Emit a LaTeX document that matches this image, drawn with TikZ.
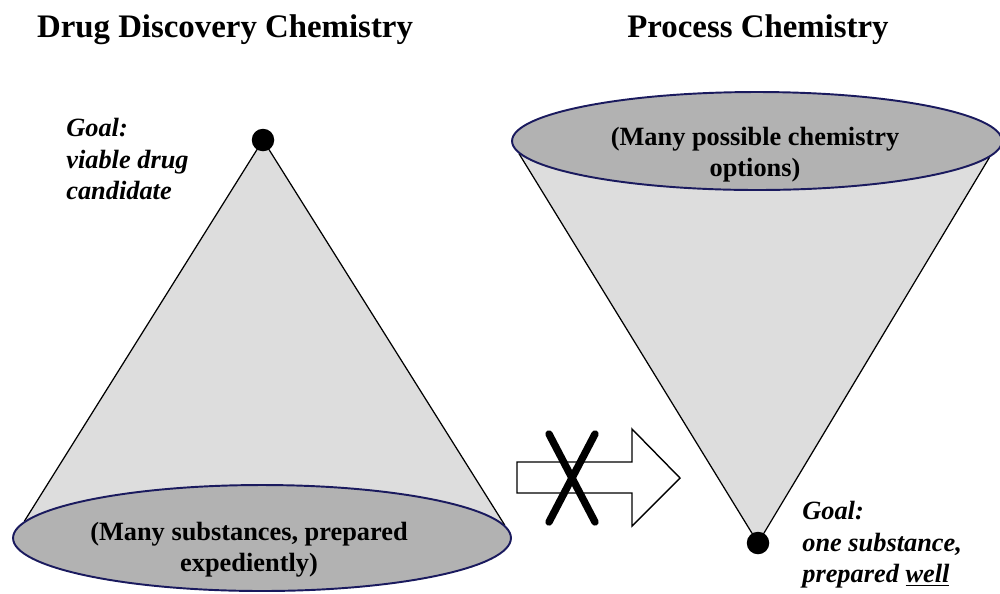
\documentclass[tikz,border=0pt]{standalone}
\usepackage{fontspec}
\setmainfont{Liberation Serif}
\usetikzlibrary{shapes.geometric,backgrounds}
\definecolor{conefill}{HTML}{DDDDDD}
\definecolor{capfill}{HTML}{B2B2B2}
\definecolor{capline}{HTML}{1A1A5E}
\tikzset{
  titletext/.style={font=\fontsize{18.7}{22}\selectfont\bfseries, inner sep=0pt},
  bodytext/.style={font=\fontsize{15}{17.8}\selectfont\bfseries, align=center, inner sep=0pt},
  goaltext/.style={font=\fontsize{15}{18}\selectfont\bfseries\itshape, align=left, inner sep=0pt, anchor=west},
  capell/.style={ellipse, fill=capfill, draw=capline, line width=1.1pt, inner sep=0pt},
  apexdot/.style={circle, fill=black, inner sep=0pt, minimum size=0.45cm},
  coneedge/.style={draw=black, line width=0.7pt},
  crossline/.style={line width=4.2pt, line cap=round, black},
}
\begin{document}
\begin{tikzpicture}[x=0.02cm, y=-0.02cm]
\useasboundingbox (0,0) rectangle (1000,593);
% titles
\node[titletext] (t1) at (225,30) {Drug Discovery Chemistry};
\node[titletext] (t2) at (758,30) {Process Chemistry};
% left cone
\node[capell, minimum width=9.96cm, minimum height=2.12cm] (lell) at (262,538) {};
\node[apexdot] (lapex) at (263,140) {};
\begin{pgfonlayer}{background}
  \fill[conefill] (lapex.center) -- (lell.176.8) -- (lell.3.5) -- cycle;
  \draw[coneedge] (lapex.center) -- (lell.176.8);
  \draw[coneedge] (lapex.center) -- (lell.3.5);
\end{pgfonlayer}
\node[bodytext] (ltext) at (249,550) {(Many substances, prepared\\expediently)};
\node[goaltext] (lgoal) at (66,159) {Goal:\\viable drug\\candidate};
% right cone
\node[capell, minimum width=9.8cm, minimum height=1.96cm] (rell) at (757,141) {};
\node[apexdot] (rapex) at (758,543) {};
\begin{pgfonlayer}{background}
  \fill[conefill] (rapex.center) -- (rell.183.5) -- (rell.-4) -- cycle;
  \draw[coneedge] (rapex.center) -- (rell.183.5);
  \draw[coneedge] (rapex.center) -- (rell.-4);
\end{pgfonlayer}
\node[bodytext] (rtext) at (755,155) {(Many possible chemistry\\options)};
\node[goaltext] (rgoal) at (802,545) {Goal:\\one substance,\\prepared \underline{well}};
% arrow
\draw[fill=white, line width=0.8pt, line join=miter]
  (517,462) -- (632,462) -- (632,429) -- (680,478) -- (632,526) -- (632,493) -- (517,493) -- cycle;
% cross
\draw[crossline] (549,434) -- (595,522);
\draw[crossline] (595,434) -- (549,522);
\end{tikzpicture}
\end{document}
